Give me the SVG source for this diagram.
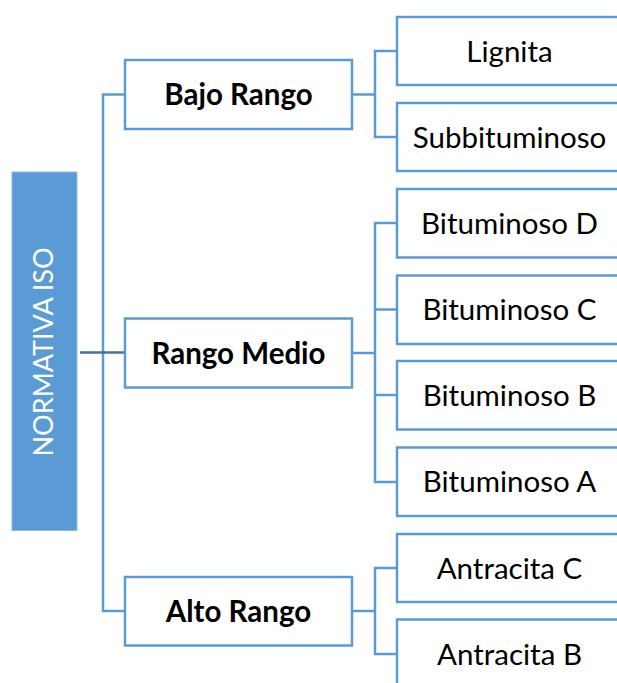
<svg xmlns="http://www.w3.org/2000/svg" width="617" height="683" viewBox="0 0 617 683">
<style>
.box{fill:#ffffff;stroke:#5B9BD5;stroke-width:2.5}
.lbl{font-family:Lato,"Open Sans","Liberation Sans",sans-serif;font-size:29.5px;fill:#000;text-anchor:middle}
.b{font-weight:bold}
.con{fill:none;stroke:#5B9BD5;stroke-width:2.5}
.main{fill:none;stroke:#41719C;stroke-width:2.5}
</style>
<rect width="617" height="683" fill="#ffffff"/>
<g id="connectors">
<path class="con" d="M125,94.5 H103 V611 H125"/>
<path class="main" d="M80,352.5 H125"/>
<path class="con" d="M352,94.5 H375 M397,51 H375 V137 H397"/>
<path class="con" d="M352,353 H375 M397,223 H375 V482 H397 M375,309.5 H397 M375,395 H397"/>
<path class="con" d="M352,611 H375 M397,568 H375 V654 H397"/>
</g>
<g id="normativa">
<rect x="12" y="172" width="65" height="358.5" fill="#5B9BD5" stroke="#8DB9E2" stroke-width="1"/>
<text class="lbl" style="fill:#ffffff;font-size:27px" transform="translate(43,352) rotate(-90)" x="0" y="10">NORMATIVA ISO</text>
</g>
<g id="bajo">
<rect class="box" x="125" y="60" width="227" height="69"/>
<text class="lbl b" x="238.5" y="104.5">Bajo Rango</text>
</g>
<g id="medio">
<rect class="box" x="125" y="318.5" width="227" height="69"/>
<text class="lbl b" x="238.5" y="363.5">Rango Medio</text>
</g>
<g id="alto">
<rect class="box" x="125" y="577" width="227" height="68.5"/>
<text class="lbl b" x="238.5" y="621.5">Alto Rango</text>
</g>
<g id="lignita">
<rect class="box" x="397" y="17" width="230" height="68"/>
<text class="lbl" x="509.5" y="61.5">Lignita</text>
</g>
<g id="subbituminoso">
<rect class="box" x="397" y="103" width="230" height="68"/>
<text class="lbl" x="509.5" y="147.5">Subbituminoso</text>
</g>
<g id="bitD">
<rect class="box" x="397" y="189" width="230" height="68.5"/>
<text class="lbl" x="509.5" y="233.5">Bituminoso D</text>
</g>
<g id="bitC">
<rect class="box" x="397" y="275.5" width="230" height="68.5"/>
<text class="lbl" x="509.5" y="320">Bituminoso C</text>
</g>
<g id="bitB">
<rect class="box" x="397" y="361" width="230" height="68.5"/>
<text class="lbl" x="509.5" y="405.5">Bituminoso B</text>
</g>
<g id="bitA">
<rect class="box" x="397" y="447.5" width="230" height="68.5"/>
<text class="lbl" x="509.5" y="492">Bituminoso A</text>
</g>
<g id="antrC">
<rect class="box" x="397" y="534" width="230" height="68"/>
<text class="lbl" x="509.5" y="578.5">Antracita C</text>
</g>
<g id="antrB">
<rect class="box" x="397" y="619.5" width="230" height="68"/>
<text class="lbl" x="509.5" y="664.5">Antracita B</text>
</g>
</svg>
